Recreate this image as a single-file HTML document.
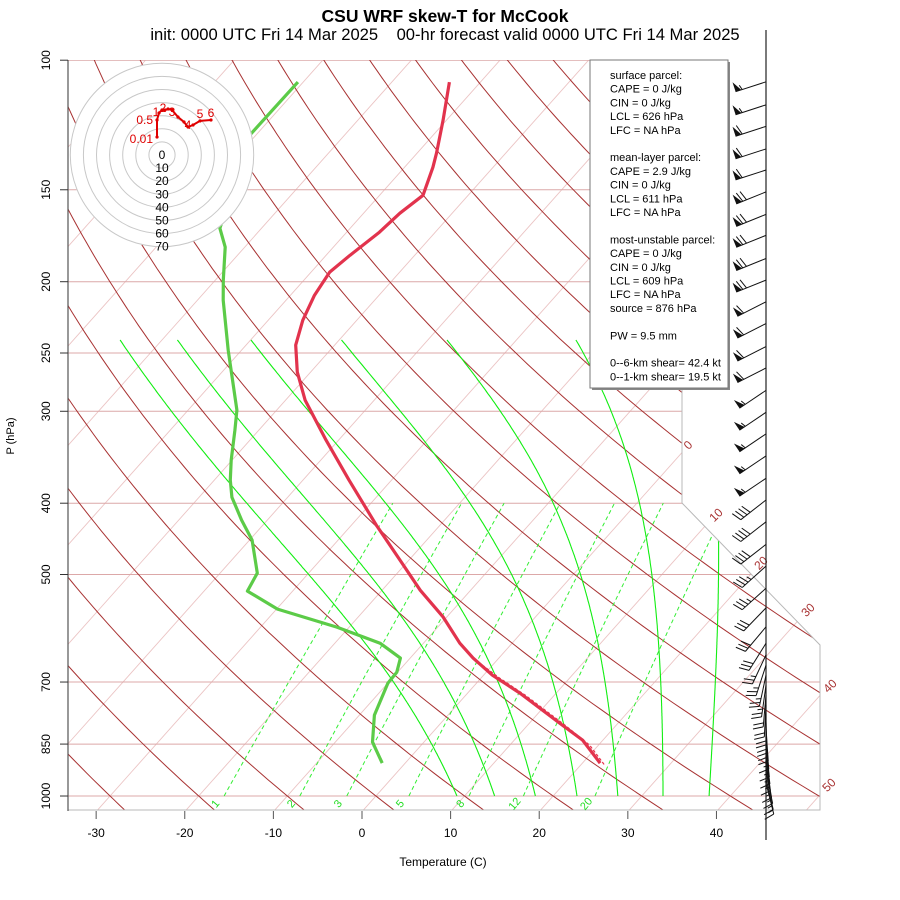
<!DOCTYPE html>
<html>
<head>
<meta charset="utf-8">
<style>
  html, body { margin: 0; padding: 0; background: #fff; }
  svg { display: block; font-family: "Liberation Sans", "DejaVu Sans", sans-serif; }
</style>
</head>
<body>
<svg id="chart" width="900" height="900" viewBox="0 0 900 900" xmlns="http://www.w3.org/2000/svg">
  <defs>
    <clipPath id="plotClip"><polygon points="68,60 682,60 682,503 820,645 820,810 68,810"/></clipPath>
  </defs>
  <rect x="0" y="0" width="900" height="900" fill="#fff"/>
  <g id="grid" clip-path="url(#plotClip)"></g>
  <g id="profiles" clip-path="url(#plotClip)"></g>
  <polyline points="682,60 682,503 820,645 820,810 68,810" fill="none" stroke="#b8b8b8" stroke-width="1"/>
  <g id="axes"></g>
  <g id="hodo"></g>
  <g id="stats">
    <rect x="592" y="62" width="138" height="328" fill="#888"/>
    <rect x="590" y="60" width="138" height="328" fill="#fff" stroke="#777" stroke-width="1"/>
  </g>
  <g id="barbs"></g>
  <text x="445" y="22" text-anchor="middle" font-size="17.5" font-weight="bold">CSU WRF skew-T for McCook</text>
  <text x="445" y="40" text-anchor="middle" font-size="16.6" xml:space="preserve">init: 0000 UTC Fri 14 Mar 2025    00-hr forecast valid 0000 UTC Fri 14 Mar 2025</text>
  <text x="443" y="866" text-anchor="middle" font-size="12">Temperature (C)</text>
  <text x="0" y="0" transform="translate(14,436) rotate(-90)" text-anchor="middle" font-size="11">P (hPa)</text>
</svg>
<script>
// ---------- data ----------
const tempP = [107.1,120.6,133.8,139.8,152.6,161.4,171.3,184.1,194.1,208.6,225.6,243.9,265.4,289.7,328.4,372.1,428.4,478.0,525.1,571.3,619.8,649.5,685.1,724.6,796.0,839.5,902.2];
const tempT = [-63.5,-60.4,-57.8,-56.8,-55.1,-55.9,-56.3,-57.3,-57.9,-57.3,-56.1,-54.4,-51.5,-47.8,-41.4,-34.8,-27.2,-21.0,-15.7,-10.4,-5.9,-2.9,1.0,5.9,13.4,17.7,22.0];
const dewP = [107.1,126.5,169.2,179.5,199.0,211.9,247.8,298.9,318.3,349.6,372.1,392.5,421.7,449.0,497.8,526.7,557.2,589.5,619.8,649.5,678.7,702.4,776.3,844.8,902.2];
const dewT = [-80.6,-80.7,-74.7,-72.2,-69.1,-67.1,-61.5,-54.5,-52.7,-50.1,-48.2,-46.3,-42.9,-39.7,-35.8,-35.1,-29.9,-21.4,-14.9,-11.1,-10.1,-10.0,-8.3,-5.8,-2.6];
const parcelP = [614.0,653.6,691.4,729.2,801.0,852.8,907.9];
const parcelT = [-6.4,-2.4,2.1,6.7,14.2,19.0,22.7];
const pressureTicks = [100,150,200,250,300,400,500,700,850,1000];
const tempTicks = [-30,-20,-10,0,10,20,30,40];
const isothermLabels = [0,10,20,30,40,50];
const mixRatios = [1,2,3,5,8,12,20];
const moistT1000 = [9.15,13.4,18.0,22.7,27.3,32.4,37.6];
const barbP = [107,115,123,132,141,151,162,173,186,199,213,228,245,262,281,301,322,345,370,396,424,455,487,522,555,589,620,643,664,685,707,729,752,771,791,811,832,853,872,891,911,928,946,960];
const barbSpd = [55,55,60,60,60,70,70,70,70,70,60,60,60,60,55,55,55,55,55,40,40,40,35,35,30,30,30,25,25,25,25,20,20,20,20,20,15,15,15,15,15,15,15,15];
const barbDir = [252,252,252,252,252,248,248,248,248,248,243,243,243,243,236,236,236,236,236,232,232,232,228,228,224,220,212,205,198,192,188,185,183,180,178,176,175,174,173,172,170,168,167,166];
const hodoU = [-3.8,-3.8,-2.3,0,2.3,4.6,7.6,12.2,16.8,19.8,23.7,29.0,37.4];
const hodoV = [13.7,26.7,32.1,34.4,34.4,35.1,34.4,29.0,25.2,21.4,22.9,26.0,26.7];
const hodoLabelText = ["0.01","0.5","1","2","3","4","5","6"];
const hodoLabelIdx = [0,1,2,4,6,9,11,12];
const hodoRings = [0,10,20,30,40,50,60,70];
const statsLines = ["surface parcel:","CAPE = 0 J/kg","CIN = 0 J/kg","LCL = 626 hPa","LFC = NA hPa","","mean-layer parcel:","CAPE = 2.9 J/kg","CIN = 0 J/kg","LCL = 611 hPa","LFC = NA hPa","","most-unstable parcel:","CAPE = 0 J/kg","CIN = 0 J/kg","LCL = 609 hPa","LFC = NA hPa","source = 876 hPa","","PW =  9.5 mm","","0--6-km shear= 42.4 kt","0--1-km shear= 19.5 kt"];

// ---------- axis functions ----------
const NS = "http://www.w3.org/2000/svg";
function yu(p){ return 132.182 - 44.061*Math.log10(p); }
function yP(p){ return 796 - 16.7*yu(p); }
function xTP(T,p){ return 375.9 + 16.41*(0.54*T + 0.90692*yu(p)); }
function mk(tag, parent, attrs){
  const e = document.createElementNS(NS, tag);
  for (const k in attrs) e.setAttribute(k, attrs[k]);
  parent.appendChild(e);
  return e;
}
function pts(arr){ return arr.map(a => a[0].toFixed(1)+","+a[1].toFixed(1)).join(" "); }
const grid = document.getElementById("grid");
const prof = document.getElementById("profiles");
const axes = document.getElementById("axes");

// isotherms
for (let T=-110; T<=50; T+=10){
  const l = mk("line", grid, {x1:xTP(T,1050),y1:yP(1050),x2:xTP(T,100),y2:yP(100),stroke:"#ebc4c4","stroke-width":0.9});
  
  
}
// pressure lines
pressureTicks.forEach(p => {
  const l = mk("line", grid, {x1:68,y1:yP(p),x2:820,y2:yP(p),stroke:"#dca8a8","stroke-width":1});
  
  
});
// dry adiabats
for (let th=-30; th<=190; th+=10){
  const a=[];
  for (let lp=Math.log(1050); lp>=Math.log(99); lp-=0.02){
    const p=Math.exp(lp);
    const T=(th+273.15)*Math.pow(p/1000,0.2857)-273.15;
    a.push([xTP(T,p),yP(p)]);
  }
  const l = mk("polyline", grid, {points:pts(a),fill:"none",stroke:"#a83232","stroke-width":1});
  
  
}
// mixing ratio lines
function tdFromW(w,p){ const ww=w/1000; const e=ww*p/(0.622+ww); const L=Math.log(e/6.112); return 243.5*L/(17.67-L); }
mixRatios.forEach(w => {
  const a=[];
  for (let p=1000; p>=400; p-=25) a.push([xTP(tdFromW(w,p),p),yP(p)]);
  const l = mk("polyline", grid, {points:pts(a),fill:"none",stroke:"#33ee33","stroke-width":1,"stroke-dasharray":"4,3"});
  
  
  const x = xTP(tdFromW(w,1000),1000)-6, y=806;
  const t = mk("text", axes, {x:x,y:y,"font-size":11,fill:"#22dd22","text-anchor":"middle",transform:`rotate(-50 ${x} ${y})`});
  t.textContent = String(w);
  
  
});
// moist adiabats (approximate pseudo-adiabats)
function es(Tc){ return 6.112*Math.exp(17.67*Tc/(Tc+243.5)); }
moistT1000.forEach(T0 => {
  let T=T0+273.15, p=1000; const a=[[xTP(T0,1000),yP(1000)]];
  while (p>241.5){
    const dp=-2;
    const e=es(T-273.15); const rs=0.8*0.622*e/(p-e);
    const dTdp=(287*T+2.5e6*rs)/(p*(1005+2.5e6*2.5e6*rs*0.622/(287*T*T)));
    T+=dTdp*dp; p+=dp;
    a.push([xTP(T-273.15,p),yP(p)]);
  }
  const l = mk("polyline", grid, {points:pts(a),fill:"none",stroke:"#11ee11","stroke-width":1.1});
  
  
});

// profiles
const dl = mk("polyline", prof, {points:pts(dewP.map((p,i)=>[xTP(dewT[i],p),yP(p)])),fill:"none",stroke:"#5ccb48","stroke-width":3.2,"stroke-linejoin":"round"});


const pl = mk("polyline", prof, {points:pts(parcelP.map((p,i)=>[xTP(parcelT[i],p),yP(p)])),fill:"none",stroke:"#e8304a","stroke-width":1.2,"stroke-dasharray":"3,2"});


const tl = mk("polyline", prof, {points:pts(tempP.map((p,i)=>[xTP(tempT[i],p),yP(p)])),fill:"none",stroke:"#e2334d","stroke-width":3.2,"stroke-linejoin":"round"});



// isotherm labels (positions along boundary)
const isoLabPos = [[688,449],[716,519],[761,567],[808,614],[830,690],[829,789]];
isothermLabels.forEach((T,i) => {
  const [x,y]=isoLabPos[i];
  const t = mk("text", axes, {x:x,y:y,"font-size":12,fill:"#a83232","text-anchor":"middle",transform:`rotate(-45 ${x} ${y-4})`});
  t.textContent = String(T);
  
  
});

// left axis
const la = mk("line", axes, {x1:68,y1:60,x2:68,y2:811,stroke:"#555","stroke-width":1.2});


pressureTicks.forEach(p => {
  const y=yP(p);
  const tk = mk("line", axes, {x1:60,y1:y,x2:68,y2:y,stroke:"#333","stroke-width":1});
  
  
  const t = mk("text", axes, {x:0,y:0,"font-size":12,"text-anchor":"middle",transform:`translate(50,${y}) rotate(-90)`});
  t.textContent = String(p);
  
  
});
// bottom axis
tempTicks.forEach(T => {
  const x=xTP(T,1050);
  const tk = mk("line", axes, {x1:x,y1:811,x2:x,y2:819,stroke:"#555","stroke-width":1});
  
  
  const t = mk("text", axes, {x:x,y:837,"font-size":12,"text-anchor":"middle"});
  t.textContent = String(T);
  
  
});

// hodograph
const hodo = document.getElementById("hodo");
const hcx=162, hcy=155, hs=1.31;
const hbg = mk("circle", hodo, {cx:hcx,cy:hcy,r:70*hs+0.5,fill:"#fff",stroke:"none"});


hodoRings.forEach(r => {
  if (r>0){
    const c = mk("circle", hodo, {cx:hcx,cy:hcy,r:r*hs,fill:"none",stroke:"#c8c8c8","stroke-width":1});
    
    
  }
  const t = mk("text", hodo, {x:hcx,y:hcy+r*hs+4,"font-size":12,"text-anchor":"middle"});
  t.textContent = String(r);
  
  
});
const hl = mk("polyline", hodo, {points:pts(hodoU.map((u,i)=>[hcx+u*hs,hcy-hodoV[i]*hs])),fill:"none",stroke:"#e00000","stroke-width":2});


hodoU.forEach((u,i) => {
  const c = mk("circle", hodo, {cx:hcx+u*hs,cy:hcy-hodoV[i]*hs,r:1.6,fill:"#e00000"});
  
  
});
const hlOff = [[-4,6],[-4,4],[-3,3],[-2,2],[0,6],[0,2],[0,-3],[0,-3]];
hodoLabelText.forEach((s,i) => {
  const k=hodoLabelIdx[i];
  const x=hcx+hodoU[k]*hs+hlOff[i][0], y=hcy-hodoV[k]*hs+hlOff[i][1];
  const t = mk("text", hodo, {x:x,y:y,"font-size":12,fill:"#e00000","text-anchor":i<2?"end":"middle"});
  t.textContent = s;
  
  
});

// stats text
const stats = document.getElementById("stats");
statsLines.forEach((s,i) => {
  if (!s) return;
  const t = mk("text", stats, {x:610,y:79+i*13.7,"font-size":11});
  t.textContent = s;
  
  
});

// wind barbs
const barbs = document.getElementById("barbs");
const bl = mk("line", barbs, {x1:766,y1:30,x2:766,y2:840,stroke:"#222","stroke-width":1.2});


barbP.forEach((p,i) => {
  const g = mk("g", barbs, {});
  
  
  const d=barbDir[i]*Math.PI/180, L=32;
  const ux=Math.sin(d), uy=-Math.cos(d);
  const bx=766, by=yP(p);
  const tx=bx+ux*L, ty=by+uy*L;
  const px=-uy, py=ux; // perpendicular (barb side)
  mk("line", g, {x1:bx,y1:by,x2:tx,y2:ty,stroke:"#111","stroke-width":1});
  let spd=Math.round(barbSpd[i]/5)*5, pos=0;
  while (spd>=50){
    const a=[tx-ux*pos,ty-uy*pos], b=[tx-ux*(pos+6),ty-uy*(pos+6)];
    const c=[a[0]+px*10,a[1]+py*10];
    mk("polygon", g, {points:pts([a,c,b]),fill:"#111"});
    pos+=7; spd-=50;
  }
  while (spd>=10){
    const a=[tx-ux*pos,ty-uy*pos];
    mk("line", g, {x1:a[0],y1:a[1],x2:a[0]+px*10+ux*3,y2:a[1]+py*10+uy*3,stroke:"#111","stroke-width":1});
    pos+=4; spd-=10;
  }
  if (spd>=5){
    if (pos===0) pos=4;
    const a=[tx-ux*pos,ty-uy*pos];
    mk("line", g, {x1:a[0],y1:a[1],x2:a[0]+px*5+ux*1.5,y2:a[1]+py*5+uy*1.5,stroke:"#111","stroke-width":1});
  }
});
</script>
</body>
</html>
